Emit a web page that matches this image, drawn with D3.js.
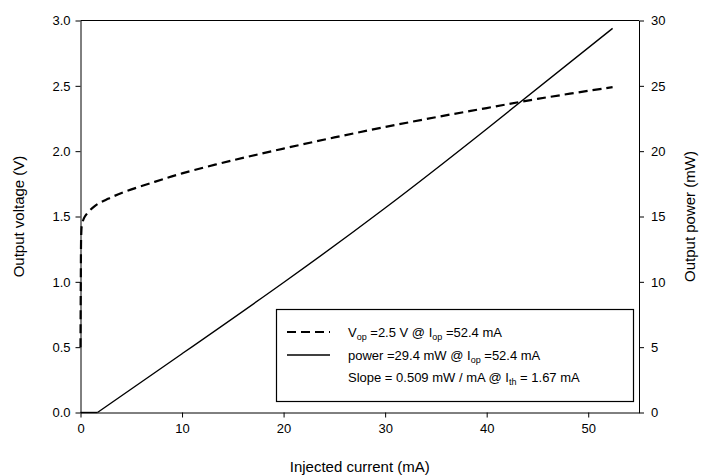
<!DOCTYPE html>
<html><head><meta charset="utf-8">
<script src="https://cdn.jsdelivr.net/npm/d3@7"></script>
<style>body{margin:0;background:#fff}svg{display:block}text{font-family:"Liberation Sans",Arial,sans-serif}</style>
</head><body>
<svg id="c" width="706" height="475"></svg>
<script>
// Data
const voltageCurrent = [0, 0.03, 0.08, 0.15, 0.43, 1.4, 2.7, 4.4, 7.3, 10, 15, 20, 25, 30, 35, 40, 45, 52.4];
const voltageValues  = [0.5, 1.0, 1.38, 1.44, 1.50, 1.58, 1.635, 1.69, 1.765, 1.83, 1.93, 2.02, 2.105, 2.185, 2.26, 2.33, 2.40, 2.49];
const powerCurrent = [0, 1.67, 10, 20, 30, 40, 52.4];
const powerValues  = [0, 0, 4.5, 9.95, 15.65, 21.7, 29.4];
const xTicks = [0, 10, 20, 30, 40, 50];
const yLeftTicks = [0, 0.5, 1.0, 1.5, 2.0, 2.5, 3.0];
const yRightTicks = [0, 5, 10, 15, 20, 25, 30];

const svg = d3.select("#c");
const L = 80.5, R = 639, T = 20.5, B = 412.5;
const x = d3.scaleLinear().domain([0, 55]).range([L, R]);
const yV = d3.scaleLinear().domain([0, 3]).range([B, T]);
const yP = d3.scaleLinear().domain([0, 30]).range([B, T]);

function styleAxis(g){
  g.selectAll("path").attr("stroke","#000").attr("stroke-width",1);
  g.selectAll("line").attr("stroke","#000").attr("stroke-width",1);
  g.selectAll("text").attr("font-size",13).attr("fill","#000").attr("font-family","'Liberation Sans',Arial,sans-serif");
}
// top border
svg.append("line").attr("x1",L).attr("x2",R).attr("y1",T).attr("y2",T).attr("stroke","#000");

svg.append("g").attr("transform",`translate(0,${B})`)
  .call(d3.axisBottom(x).tickValues(xTicks).tickFormat(d3.format("d")).tickSize(5).tickSizeOuter(0).tickPadding(6))
  .call(styleAxis);
svg.append("g").attr("transform",`translate(${L},0)`)
  .call(d3.axisLeft(yV).tickValues(yLeftTicks).tickFormat(d3.format(".1f")).tickSize(5).tickSizeOuter(0).tickPadding(5))
  .call(styleAxis);
svg.append("g").attr("transform",`translate(${R},0)`)
  .call(d3.axisRight(yP).tickValues(yRightTicks).tickFormat(d3.format("d")).tickSize(5).tickSizeOuter(0).tickPadding(7))
  .call(styleAxis);

const vData = voltageCurrent.map((c,i)=>[c, voltageValues[i]]);
const pData = powerCurrent.map((c,i)=>[c, powerValues[i]]);

svg.append("path").datum(vData)
  .attr("d", d3.line().x(d=>x(d[0])).y(d=>yV(d[1])).curve(d3.curveCatmullRom.alpha(0.5)))
  .attr("fill","none").attr("stroke","#000").attr("stroke-width",2.2).attr("stroke-dasharray","9,5");
// power: flat segment up to threshold, then a smooth curve through the readings
const pFlat = pData.filter(d=>d[0] <= 1.67);
const pRise = pData.filter(d=>d[0] >= 1.67);
svg.append("path").datum(pFlat)
  .attr("d", d3.line().x(d=>x(d[0])).y(d=>yP(d[1])))
  .attr("fill","none").attr("stroke","#000").attr("stroke-width",1.4);
svg.append("path").datum(pRise)
  .attr("d", d3.line().x(d=>x(d[0])).y(d=>yP(d[1])).curve(d3.curveNatural))
  .attr("fill","none").attr("stroke","#000").attr("stroke-width",1.4);

// axis titles
svg.append("text").attr("transform",`translate(24,${(T+B)/2}) rotate(-90)`).attr("text-anchor","middle")
  .attr("font-size",15).text("Output voltage (V)");
svg.append("text").attr("transform",`translate(695,${(T+B)/2}) rotate(-90)`).attr("text-anchor","middle")
  .attr("font-size",15).text("Output power (mW)");
svg.append("text").attr("x",(L+R)/2).attr("y",472).attr("text-anchor","middle")
  .attr("font-size",15).text("Injected current (mA)");

// legend
const lg = svg.append("g");
lg.append("rect").attr("x",276.5).attr("y",309.5).attr("width",357).attr("height",92)
  .attr("fill","#fff").attr("stroke","#000").attr("stroke-width",1.2);
lg.append("line").attr("x1",287).attr("x2",330).attr("y1",332).attr("y2",332)
  .attr("stroke","#000").attr("stroke-width",2.2).attr("stroke-dasharray","9,5");
lg.append("line").attr("x1",287).attr("x2",330).attr("y1",355).attr("y2",355)
  .attr("stroke","#000").attr("stroke-width",1.4);
const t1 = lg.append("text").attr("x",348).attr("y",337).attr("font-size",13);
t1.append("tspan").text("V");
t1.append("tspan").attr("font-size",9).attr("dy",3).text("op");
t1.append("tspan").attr("dy",-3).text(" =2.5 V @ I");
t1.append("tspan").attr("font-size",9).attr("dy",3).text("op");
t1.append("tspan").attr("dy",-3).text(" =52.4 mA");
const t2 = lg.append("text").attr("x",348).attr("y",360).attr("font-size",13);
t2.append("tspan").text("power =29.4 mW @ I");
t2.append("tspan").attr("font-size",9).attr("dy",3).text("op");
t2.append("tspan").attr("dy",-3).text(" =52.4 mA");
const t3 = lg.append("text").attr("x",348).attr("y",382).attr("font-size",13);
t3.append("tspan").text("Slope = 0.509 mW / mA @ I");
t3.append("tspan").attr("font-size",9).attr("dy",3).text("th");
t3.append("tspan").attr("dy",-3).text(" = 1.67 mA");
</script>
</body></html>
